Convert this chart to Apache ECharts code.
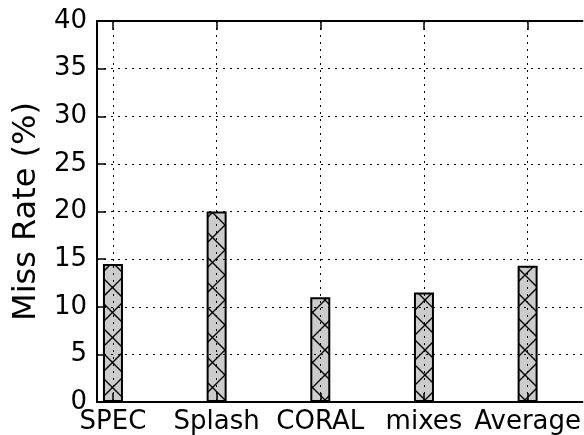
<!DOCTYPE html>
<html>
<head>
<meta charset="utf-8">
<script src="https://cdn.jsdelivr.net/npm/echarts@6/dist/echarts.min.js"></script>
<style>
  html, body { margin: 0; padding: 0; background: #ffffff; }
  #chart { width: 584px; height: 435px; }
</style>
</head>
<body>
<div id="chart"></div>
<script>
// Benchmark groups and their miss rates (%)
const categories = ['SPEC', 'Splash', 'CORAL', 'mixes', 'Average'];
const missRate = [14.5, 20.0, 11.0, 11.5, 14.3];
const categoryPositions = [0, 1, 2, 3, 4];

// Cross-hatch tile used as the bar fill
function makeHatch() {
  const s = 25;
  const c = document.createElement('canvas');
  c.width = s;
  c.height = s;
  const g = c.getContext('2d');
  g.fillStyle = '#cccccc';
  g.fillRect(0, 0, s, s);
  g.strokeStyle = '#000000';
  g.lineWidth = 1.4;
  g.beginPath();
  g.moveTo(-2, -2); g.lineTo(s + 2, s + 2);
  g.moveTo(s + 2, -2); g.lineTo(-2, s + 2);
  g.stroke();
  return c;
}

const FONT = 'DejaVu Sans';
const dotted = { color: '#000000', width: 1, type: [2, 5] };
const X_MIN = -0.154;
const X_MAX = 4.529;

const chart = echarts.init(document.getElementById('chart'), null, { renderer: 'canvas' });

chart.setOption({
  animation: false,
  backgroundColor: '#ffffff',
  grid: { left: 97, top: 21, right: 0, bottom: 33 },
  xAxis: [
    {
      type: 'value',
      position: 'bottom',
      min: X_MIN,
      max: X_MAX,
      z: 5,
      axisLine: { show: true, onZero: false, lineStyle: { color: '#000', width: 2 } },
      axisTick: { show: true, inside: true, length: 9, customValues: categoryPositions,
                  lineStyle: { color: '#000', width: 1.5 } },
      axisLabel: {
        show: true,
        customValues: categoryPositions,
        formatter: (v) => categories[Math.round(v)] ?? '',
        color: '#000', fontFamily: FONT, fontSize: 26, margin: 7
      },
      splitLine: { show: true, lineStyle: dotted }
    },
    {
      type: 'value',
      position: 'top',
      min: X_MIN,
      max: X_MAX,
      z: 5,
      axisLine: { show: true, onZero: false, lineStyle: { color: '#000', width: 2 } },
      axisTick: { show: true, inside: true, length: 9, customValues: categoryPositions,
                  lineStyle: { color: '#000', width: 1.5 } },
      axisLabel: { show: false },
      splitLine: { show: false }
    }
  ],
  yAxis: {
    type: 'value',
    min: 0,
    max: 40,
    interval: 5,
    z: 5,
    name: 'Miss Rate (%)',
    nameLocation: 'middle',
    nameGap: 54,
    nameTextStyle: { color: '#000', fontFamily: FONT, fontSize: 32 },
    axisLine: { show: true, onZero: false, lineStyle: { color: '#000', width: 2 } },
    axisTick: { show: true, inside: true, length: 9, lineStyle: { color: '#000', width: 1.5 } },
    axisLabel: { color: '#000', fontFamily: FONT, fontSize: 26, margin: 10 },
    splitLine: { show: true, lineStyle: dotted }
  },
  series: [{
    type: 'bar',
    xAxisIndex: 0,
    barWidth: 20,
    data: missRate.map((v, i) => [categoryPositions[i], v]),
    itemStyle: {
      color: { image: makeHatch(), repeat: 'repeat' },
      borderColor: '#000000',
      borderWidth: 2
    }
  }]
});
</script>
</body>
</html>
